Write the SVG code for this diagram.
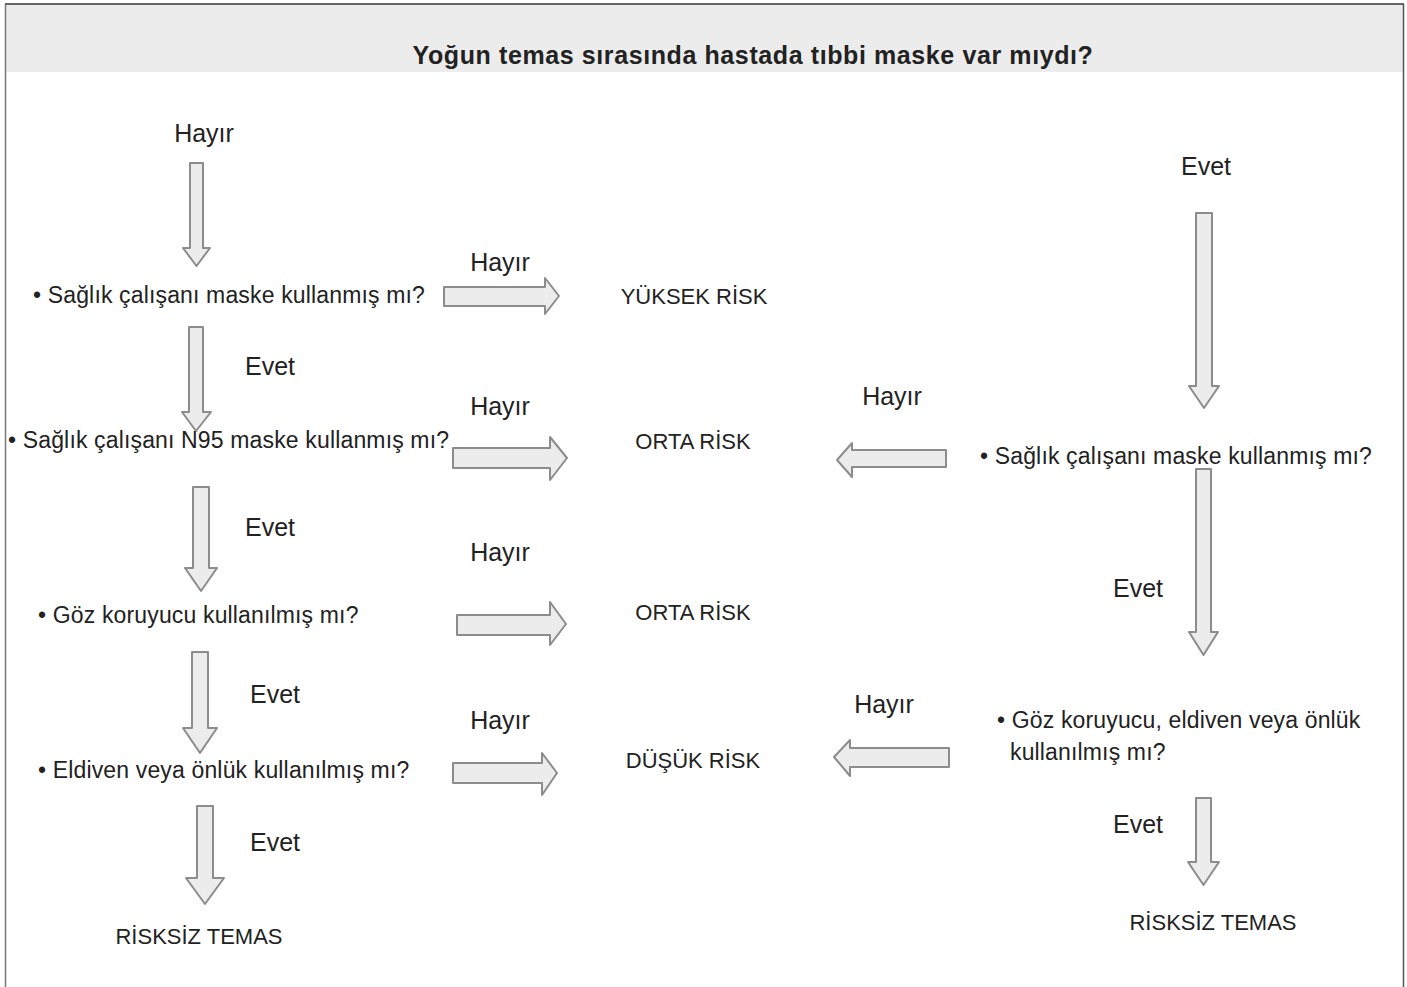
<svg xmlns="http://www.w3.org/2000/svg" width="1407" height="987" viewBox="0 0 1407 987">
<style>
.t{font-family:"Liberation Sans",Arial,sans-serif;fill:#222;}
.title{font-size:25px;font-weight:bold;letter-spacing:0.6px;}
.q{font-size:23px;letter-spacing:0.15px;}
.lbl{font-size:25px;}
.res{font-size:22px;}
.arr{fill:#ececec;stroke:#8c8c8c;stroke-width:2;stroke-linejoin:round;}
</style>
<rect x="0" y="0" width="1407" height="987" fill="#ffffff"/>
<g id="frame">
<rect x="5" y="4" width="1398" height="68" fill="#ececec"/>
<line x1="5" y1="4" x2="1404" y2="4" stroke="#333" stroke-width="1.5"/>
<line x1="5.5" y1="4" x2="5.5" y2="987" stroke="#777" stroke-width="1.5"/>
<line x1="1403.5" y1="4" x2="1403.5" y2="987" stroke="#555" stroke-width="1.5"/>
</g>
<g id="title"><text class="t title" x="753" y="64" text-anchor="middle">Yoğun temas sırasında hastada tıbbi maske var mıydı?</text></g>
<g id="connectors">
<path class="arr" d="M190 163H203V248H210L196.5 266L183 248H190Z"/>
<path class="arr" d="M189 327H203V412H211L196 431L182 412H189Z"/>
<path class="arr" d="M193 487H209V568H217L201 591L185 568H193Z"/>
<path class="arr" d="M192 652H208V728H217L200 753L183 728H192Z"/>
<path class="arr" d="M197 806H213V878H224L205 904L186 878H197Z"/>
<path class="arr" d="M1196 213H1212V386H1219L1204 408L1189 386H1196Z"/>
<path class="arr" d="M1196 469H1211V632H1218L1203.5 655L1189 632H1196Z"/>
<path class="arr" d="M1196 798H1211V862H1219L1203.5 885L1188 862H1196Z"/>
<path class="arr" d="M444 287H545V278L559 296L545 314V306H444Z"/>
<path class="arr" d="M453 448H550V437L567 458L550 480V468H453Z"/>
<path class="arr" d="M457 615H550V602L566 624L550 645V635H457Z"/>
<path class="arr" d="M453 763H542V753L557 773L542 795V783H453Z"/>
<path class="arr" d="M946 450H852V443L837 460L852 477V467H946Z"/>
<path class="arr" d="M949 748H850V740L834 757L850 776V767H949Z"/>
</g>
<g id="labels">
<text class="t lbl" x="204" y="142" text-anchor="middle">Hayır</text>
<text class="t lbl" x="1206" y="175" text-anchor="middle">Evet</text>
<text class="t lbl" x="500" y="271" text-anchor="middle">Hayır</text>
<text class="t lbl" x="270" y="375" text-anchor="middle">Evet</text>
<text class="t lbl" x="500" y="415" text-anchor="middle">Hayır</text>
<text class="t lbl" x="892" y="405" text-anchor="middle">Hayır</text>
<text class="t lbl" x="270" y="536" text-anchor="middle">Evet</text>
<text class="t lbl" x="500" y="561" text-anchor="middle">Hayır</text>
<text class="t lbl" x="1138" y="597" text-anchor="middle">Evet</text>
<text class="t lbl" x="275" y="703" text-anchor="middle">Evet</text>
<text class="t lbl" x="500" y="729" text-anchor="middle">Hayır</text>
<text class="t lbl" x="884" y="713" text-anchor="middle">Hayır</text>
<text class="t lbl" x="275" y="851" text-anchor="middle">Evet</text>
<text class="t lbl" x="1138" y="833" text-anchor="middle">Evet</text>
</g>
<g id="q1"><text class="t q" x="33" y="303">• Sağlık çalışanı maske kullanmış mı?</text></g>
<g id="q2"><text class="t q" x="8" y="448">• Sağlık çalışanı N95 maske kullanmış mı?</text></g>
<g id="q3"><text class="t q" x="38" y="623">• Göz koruyucu kullanılmış mı?</text></g>
<g id="q4"><text class="t q" x="38" y="778">• Eldiven veya önlük kullanılmış mı?</text></g>
<g id="rq1"><text class="t q" x="980" y="464">• Sağlık çalışanı maske kullanmış mı?</text></g>
<g id="rq2"><text class="t q" x="997" y="728">• Göz koruyucu, eldiven veya önlük</text><text class="t q" x="1010" y="760">kullanılmış mı?</text></g>
<g id="r1"><text class="t res" x="694" y="304" text-anchor="middle">YÜKSEK RİSK</text></g>
<g id="r2"><text class="t res" x="693" y="449" text-anchor="middle">ORTA RİSK</text></g>
<g id="r3"><text class="t res" x="693" y="620" text-anchor="middle">ORTA RİSK</text></g>
<g id="r4"><text class="t res" x="693" y="768" text-anchor="middle">DÜŞÜK RİSK</text></g>
<g id="r5"><text class="t res" x="199" y="944" text-anchor="middle">RİSKSİZ TEMAS</text></g>
<g id="r6"><text class="t res" x="1213" y="930" text-anchor="middle">RİSKSİZ TEMAS</text></g>
</svg>
